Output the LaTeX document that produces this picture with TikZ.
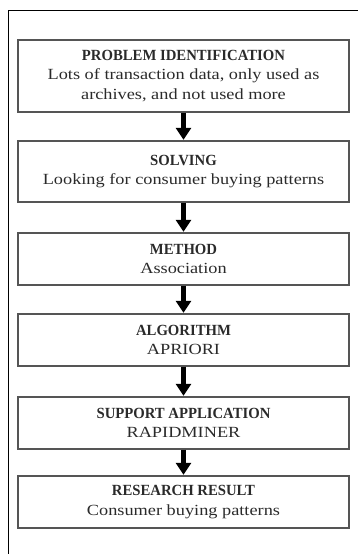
\documentclass[tikz,border=0pt]{standalone}
\usepackage{fontspec}
\setmainfont{Liberation Serif}
\newfontfamily\bodyfont[FakeStretch=1.18]{Liberation Serif}
\newfontfamily\titlefont[FakeStretch=0.95]{Liberation Serif}
\usetikzlibrary{arrows.meta}
\definecolor{boxline}{HTML}{555555}
\definecolor{txt}{HTML}{2A2A2A}
\tikzset{
  flowbox/.style={draw=boxline, line width=1.2pt, rectangle, minimum width=331pt, inner sep=0pt, text=txt, align=center, font=\fontsize{15.5}{19.5}\selectfont},
  flowarrow/.style={line width=4.5pt, -{Triangle[width=15pt,length=12pt]}, black, shorten >=0.6pt},
  frameline/.style={line width=1pt, black}
}
\newcommand{\ttl}{\titlefont\bfseries}
\newcommand{\bdy}{\bodyfont\mdseries}
\begin{document}
\begin{tikzpicture}[x=1pt,y=-1pt]
\useasboundingbox (0,0) rectangle (358,554);
\coordinate (ftop) at (358,10.5);
\coordinate (fcorner) at (8,10.5);
\coordinate (fbot) at (8,554);
\draw[frameline] (ftop) -- (fcorner) -- (fbot);

\node[flowbox, minimum height=72pt] (b1) at (183.5,76) {\ttl PROBLEM IDENTIFICATION\\\bdy Lots of transaction data, only used as\\\bdy archives, and not used more};
\node[flowbox, minimum height=61pt] (b2) at (183.5,171.5) {\ttl SOLVING\\\bdy Looking for consumer buying patterns};
\node[flowbox, minimum height=52pt] (b3) at (183.5,259) {\ttl METHOD\\\bdy Association};
\node[flowbox, minimum height=52pt] (b4) at (183.5,340) {\ttl ALGORITHM\\\bdy APRIORI};
\node[flowbox, minimum height=52pt] (b5) at (183.5,423) {\ttl SUPPORT APPLICATION\\\bdy RAPIDMINER};
\node[flowbox, minimum height=52pt] (b6) at (183.5,502) {\ttl RESEARCH RESULT\\\bdy Consumer buying patterns};

\draw[flowarrow] (b1.south) -- (b2.north);
\draw[flowarrow] (b2.south) -- (b3.north);
\draw[flowarrow] (b3.south) -- (b4.north);
\draw[flowarrow] (b4.south) -- (b5.north);
\draw[flowarrow] (b5.south) -- (b6.north);
\end{tikzpicture}
\end{document}
